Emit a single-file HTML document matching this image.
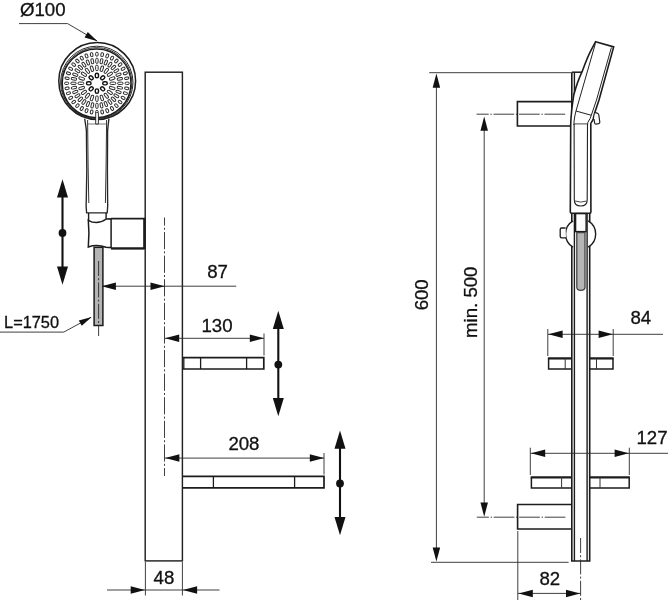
<!DOCTYPE html>
<html><head><meta charset="utf-8"><title>Shower rail dimensions</title>
<style>html,body{margin:0;padding:0;background:#fff}svg{display:block}</style></head>
<body><svg width="668" height="600" viewBox="0 0 668 600">
<rect width="668" height="600" fill="#ffffff"/>
<g style="filter:blur(0.4px)">
<rect x="145.2" y="72.2" width="37.2" height="488.7" stroke="#222" stroke-width="1.45" fill="none" />
<line x1="164.5" y1="217.5" x2="164.5" y2="476" stroke="#2a2a2a" stroke-width="0.9" stroke-dasharray="17.2 2.2 2 2.2" stroke-dashoffset="9.1"/>
<circle cx="97.2" cy="81" r="38.4" fill="#fff" stroke="#1c1c1c" stroke-width="1.5"/>
<circle cx="96.8" cy="82.4" r="36.2" fill="none" stroke="#2a2a2a" stroke-width="1.0"/>
<circle cx="96.7" cy="82.8" r="35.2" fill="none" stroke="#333" stroke-width="1.0"/>
<circle cx="96.6" cy="83.3" r="34.3" fill="none" stroke="#1c1c1c" stroke-width="1.3"/>
<g transform="translate(96.9 83.3) scale(1.04 1) translate(-96.9 -83.3)">
<rect x="102.50" y="81.75" width="4.4" height="3.1" rx="1.55" ry="1.55" transform="rotate(0.0 104.70 83.30)" fill="#fff" stroke="#111" stroke-width="1.4"/>
<rect x="100.22" y="87.27" width="4.4" height="3.1" rx="1.55" ry="1.55" transform="rotate(45.0 102.42 88.82)" fill="#fff" stroke="#111" stroke-width="1.4"/>
<rect x="94.70" y="89.55" width="4.4" height="3.1" rx="1.55" ry="1.55" transform="rotate(90.0 96.90 91.10)" fill="#fff" stroke="#111" stroke-width="1.4"/>
<rect x="89.18" y="87.27" width="4.4" height="3.1" rx="1.55" ry="1.55" transform="rotate(135.0 91.38 88.82)" fill="#fff" stroke="#111" stroke-width="1.4"/>
<rect x="86.90" y="81.75" width="4.4" height="3.1" rx="1.55" ry="1.55" transform="rotate(180.0 89.10 83.30)" fill="#fff" stroke="#111" stroke-width="1.4"/>
<rect x="89.18" y="76.23" width="4.4" height="3.1" rx="1.55" ry="1.55" transform="rotate(225.0 91.38 77.78)" fill="#fff" stroke="#111" stroke-width="1.4"/>
<rect x="94.70" y="73.95" width="4.4" height="3.1" rx="1.55" ry="1.55" transform="rotate(270.0 96.90 75.50)" fill="#fff" stroke="#111" stroke-width="1.4"/>
<rect x="100.22" y="76.23" width="4.4" height="3.1" rx="1.55" ry="1.55" transform="rotate(315.0 102.42 77.78)" fill="#fff" stroke="#111" stroke-width="1.4"/>
<rect x="109.50" y="82.10" width="5.6" height="2.4" rx="1.2" ry="1.2" transform="rotate(0.0 112.30 83.30)" fill="#fff" stroke="#2a2a2a" stroke-width="0.95"/>
<rect x="108.75" y="86.86" width="5.6" height="2.4" rx="1.2" ry="1.2" transform="rotate(18.0 111.55 88.06)" fill="#fff" stroke="#2a2a2a" stroke-width="0.95"/>
<rect x="106.56" y="91.15" width="5.6" height="2.4" rx="1.2" ry="1.2" transform="rotate(36.0 109.36 92.35)" fill="#fff" stroke="#2a2a2a" stroke-width="0.95"/>
<rect x="103.15" y="94.56" width="5.6" height="2.4" rx="1.2" ry="1.2" transform="rotate(54.0 105.95 95.76)" fill="#fff" stroke="#2a2a2a" stroke-width="0.95"/>
<rect x="98.86" y="96.75" width="5.6" height="2.4" rx="1.2" ry="1.2" transform="rotate(72.0 101.66 97.95)" fill="#fff" stroke="#2a2a2a" stroke-width="0.95"/>
<rect x="94.10" y="97.50" width="5.6" height="2.4" rx="1.2" ry="1.2" transform="rotate(90.0 96.90 98.70)" fill="#fff" stroke="#2a2a2a" stroke-width="0.95"/>
<rect x="89.34" y="96.75" width="5.6" height="2.4" rx="1.2" ry="1.2" transform="rotate(108.0 92.14 97.95)" fill="#fff" stroke="#2a2a2a" stroke-width="0.95"/>
<rect x="85.05" y="94.56" width="5.6" height="2.4" rx="1.2" ry="1.2" transform="rotate(126.0 87.85 95.76)" fill="#fff" stroke="#2a2a2a" stroke-width="0.95"/>
<rect x="81.64" y="91.15" width="5.6" height="2.4" rx="1.2" ry="1.2" transform="rotate(144.0 84.44 92.35)" fill="#fff" stroke="#2a2a2a" stroke-width="0.95"/>
<rect x="79.45" y="86.86" width="5.6" height="2.4" rx="1.2" ry="1.2" transform="rotate(162.0 82.25 88.06)" fill="#fff" stroke="#2a2a2a" stroke-width="0.95"/>
<rect x="78.70" y="82.10" width="5.6" height="2.4" rx="1.2" ry="1.2" transform="rotate(180.0 81.50 83.30)" fill="#fff" stroke="#2a2a2a" stroke-width="0.95"/>
<rect x="79.45" y="77.34" width="5.6" height="2.4" rx="1.2" ry="1.2" transform="rotate(198.0 82.25 78.54)" fill="#fff" stroke="#2a2a2a" stroke-width="0.95"/>
<rect x="81.64" y="73.05" width="5.6" height="2.4" rx="1.2" ry="1.2" transform="rotate(216.0 84.44 74.25)" fill="#fff" stroke="#2a2a2a" stroke-width="0.95"/>
<rect x="85.05" y="69.64" width="5.6" height="2.4" rx="1.2" ry="1.2" transform="rotate(234.0 87.85 70.84)" fill="#fff" stroke="#2a2a2a" stroke-width="0.95"/>
<rect x="89.34" y="67.45" width="5.6" height="2.4" rx="1.2" ry="1.2" transform="rotate(252.0 92.14 68.65)" fill="#fff" stroke="#2a2a2a" stroke-width="0.95"/>
<rect x="94.10" y="66.70" width="5.6" height="2.4" rx="1.2" ry="1.2" transform="rotate(270.0 96.90 67.90)" fill="#fff" stroke="#2a2a2a" stroke-width="0.95"/>
<rect x="98.86" y="67.45" width="5.6" height="2.4" rx="1.2" ry="1.2" transform="rotate(288.0 101.66 68.65)" fill="#fff" stroke="#2a2a2a" stroke-width="0.95"/>
<rect x="103.15" y="69.64" width="5.6" height="2.4" rx="1.2" ry="1.2" transform="rotate(306.0 105.95 70.84)" fill="#fff" stroke="#2a2a2a" stroke-width="0.95"/>
<rect x="106.56" y="73.05" width="5.6" height="2.4" rx="1.2" ry="1.2" transform="rotate(324.0 109.36 74.25)" fill="#fff" stroke="#2a2a2a" stroke-width="0.95"/>
<rect x="108.75" y="77.34" width="5.6" height="2.4" rx="1.2" ry="1.2" transform="rotate(342.0 111.55 78.54)" fill="#fff" stroke="#2a2a2a" stroke-width="0.95"/>
<rect x="116.80" y="82.15" width="5.2" height="2.3" rx="1.15" ry="1.15" transform="rotate(0.0 119.40 83.30)" fill="#fff" stroke="#2a2a2a" stroke-width="0.95"/>
<rect x="116.37" y="86.54" width="5.2" height="2.3" rx="1.15" ry="1.15" transform="rotate(11.2 118.97 87.69)" fill="#fff" stroke="#2a2a2a" stroke-width="0.95"/>
<rect x="115.09" y="90.76" width="5.2" height="2.3" rx="1.15" ry="1.15" transform="rotate(22.5 117.69 91.91)" fill="#fff" stroke="#2a2a2a" stroke-width="0.95"/>
<rect x="113.01" y="94.65" width="5.2" height="2.3" rx="1.15" ry="1.15" transform="rotate(33.8 115.61 95.80)" fill="#fff" stroke="#2a2a2a" stroke-width="0.95"/>
<rect x="110.21" y="98.06" width="5.2" height="2.3" rx="1.15" ry="1.15" transform="rotate(45.0 112.81 99.21)" fill="#fff" stroke="#2a2a2a" stroke-width="0.95"/>
<rect x="106.80" y="100.86" width="5.2" height="2.3" rx="1.15" ry="1.15" transform="rotate(56.2 109.40 102.01)" fill="#fff" stroke="#2a2a2a" stroke-width="0.95"/>
<rect x="102.91" y="102.94" width="5.2" height="2.3" rx="1.15" ry="1.15" transform="rotate(67.5 105.51 104.09)" fill="#fff" stroke="#2a2a2a" stroke-width="0.95"/>
<rect x="98.69" y="104.22" width="5.2" height="2.3" rx="1.15" ry="1.15" transform="rotate(78.8 101.29 105.37)" fill="#fff" stroke="#2a2a2a" stroke-width="0.95"/>
<rect x="94.30" y="104.65" width="5.2" height="2.3" rx="1.15" ry="1.15" transform="rotate(90.0 96.90 105.80)" fill="#fff" stroke="#2a2a2a" stroke-width="0.95"/>
<rect x="89.91" y="104.22" width="5.2" height="2.3" rx="1.15" ry="1.15" transform="rotate(101.2 92.51 105.37)" fill="#fff" stroke="#2a2a2a" stroke-width="0.95"/>
<rect x="85.69" y="102.94" width="5.2" height="2.3" rx="1.15" ry="1.15" transform="rotate(112.5 88.29 104.09)" fill="#fff" stroke="#2a2a2a" stroke-width="0.95"/>
<rect x="81.80" y="100.86" width="5.2" height="2.3" rx="1.15" ry="1.15" transform="rotate(123.8 84.40 102.01)" fill="#fff" stroke="#2a2a2a" stroke-width="0.95"/>
<rect x="78.39" y="98.06" width="5.2" height="2.3" rx="1.15" ry="1.15" transform="rotate(135.0 80.99 99.21)" fill="#fff" stroke="#2a2a2a" stroke-width="0.95"/>
<rect x="75.59" y="94.65" width="5.2" height="2.3" rx="1.15" ry="1.15" transform="rotate(146.2 78.19 95.80)" fill="#fff" stroke="#2a2a2a" stroke-width="0.95"/>
<rect x="73.51" y="90.76" width="5.2" height="2.3" rx="1.15" ry="1.15" transform="rotate(157.5 76.11 91.91)" fill="#fff" stroke="#2a2a2a" stroke-width="0.95"/>
<rect x="72.23" y="86.54" width="5.2" height="2.3" rx="1.15" ry="1.15" transform="rotate(168.8 74.83 87.69)" fill="#fff" stroke="#2a2a2a" stroke-width="0.95"/>
<rect x="71.80" y="82.15" width="5.2" height="2.3" rx="1.15" ry="1.15" transform="rotate(180.0 74.40 83.30)" fill="#fff" stroke="#2a2a2a" stroke-width="0.95"/>
<rect x="72.23" y="77.76" width="5.2" height="2.3" rx="1.15" ry="1.15" transform="rotate(191.2 74.83 78.91)" fill="#fff" stroke="#2a2a2a" stroke-width="0.95"/>
<rect x="73.51" y="73.54" width="5.2" height="2.3" rx="1.15" ry="1.15" transform="rotate(202.5 76.11 74.69)" fill="#fff" stroke="#2a2a2a" stroke-width="0.95"/>
<rect x="75.59" y="69.65" width="5.2" height="2.3" rx="1.15" ry="1.15" transform="rotate(213.8 78.19 70.80)" fill="#fff" stroke="#2a2a2a" stroke-width="0.95"/>
<rect x="78.39" y="66.24" width="5.2" height="2.3" rx="1.15" ry="1.15" transform="rotate(225.0 80.99 67.39)" fill="#fff" stroke="#2a2a2a" stroke-width="0.95"/>
<rect x="81.80" y="63.44" width="5.2" height="2.3" rx="1.15" ry="1.15" transform="rotate(236.2 84.40 64.59)" fill="#fff" stroke="#2a2a2a" stroke-width="0.95"/>
<rect x="85.69" y="61.36" width="5.2" height="2.3" rx="1.15" ry="1.15" transform="rotate(247.5 88.29 62.51)" fill="#fff" stroke="#2a2a2a" stroke-width="0.95"/>
<rect x="89.91" y="60.08" width="5.2" height="2.3" rx="1.15" ry="1.15" transform="rotate(258.8 92.51 61.23)" fill="#fff" stroke="#2a2a2a" stroke-width="0.95"/>
<rect x="94.30" y="59.65" width="5.2" height="2.3" rx="1.15" ry="1.15" transform="rotate(270.0 96.90 60.80)" fill="#fff" stroke="#2a2a2a" stroke-width="0.95"/>
<rect x="98.69" y="60.08" width="5.2" height="2.3" rx="1.15" ry="1.15" transform="rotate(281.2 101.29 61.23)" fill="#fff" stroke="#2a2a2a" stroke-width="0.95"/>
<rect x="102.91" y="61.36" width="5.2" height="2.3" rx="1.15" ry="1.15" transform="rotate(292.5 105.51 62.51)" fill="#fff" stroke="#2a2a2a" stroke-width="0.95"/>
<rect x="106.80" y="63.44" width="5.2" height="2.3" rx="1.15" ry="1.15" transform="rotate(303.8 109.40 64.59)" fill="#fff" stroke="#2a2a2a" stroke-width="0.95"/>
<rect x="110.21" y="66.24" width="5.2" height="2.3" rx="1.15" ry="1.15" transform="rotate(315.0 112.81 67.39)" fill="#fff" stroke="#2a2a2a" stroke-width="0.95"/>
<rect x="113.01" y="69.65" width="5.2" height="2.3" rx="1.15" ry="1.15" transform="rotate(326.2 115.61 70.80)" fill="#fff" stroke="#2a2a2a" stroke-width="0.95"/>
<rect x="115.09" y="73.54" width="5.2" height="2.3" rx="1.15" ry="1.15" transform="rotate(337.5 117.69 74.69)" fill="#fff" stroke="#2a2a2a" stroke-width="0.95"/>
<rect x="116.37" y="77.76" width="5.2" height="2.3" rx="1.15" ry="1.15" transform="rotate(348.8 118.97 78.91)" fill="#fff" stroke="#2a2a2a" stroke-width="0.95"/>
<rect x="124.00" y="82.10" width="4.0" height="2.4" rx="1.2" ry="1.2" transform="rotate(0.0 126.00 83.30)" fill="#fff" stroke="#2a2a2a" stroke-width="0.95"/>
<rect x="123.56" y="87.15" width="4.0" height="2.4" rx="1.2" ry="1.2" transform="rotate(10.0 125.56 88.35)" fill="#fff" stroke="#2a2a2a" stroke-width="0.95"/>
<rect x="122.25" y="92.05" width="4.0" height="2.4" rx="1.2" ry="1.2" transform="rotate(20.0 124.25 93.25)" fill="#fff" stroke="#2a2a2a" stroke-width="0.95"/>
<rect x="120.10" y="96.65" width="4.0" height="2.4" rx="1.2" ry="1.2" transform="rotate(30.0 122.10 97.85)" fill="#fff" stroke="#2a2a2a" stroke-width="0.95"/>
<rect x="117.19" y="100.81" width="4.0" height="2.4" rx="1.2" ry="1.2" transform="rotate(40.0 119.19 102.01)" fill="#fff" stroke="#2a2a2a" stroke-width="0.95"/>
<rect x="113.61" y="104.39" width="4.0" height="2.4" rx="1.2" ry="1.2" transform="rotate(50.0 115.61 105.59)" fill="#fff" stroke="#2a2a2a" stroke-width="0.95"/>
<rect x="109.45" y="107.30" width="4.0" height="2.4" rx="1.2" ry="1.2" transform="rotate(60.0 111.45 108.50)" fill="#fff" stroke="#2a2a2a" stroke-width="0.95"/>
<rect x="104.85" y="109.45" width="4.0" height="2.4" rx="1.2" ry="1.2" transform="rotate(70.0 106.85 110.65)" fill="#fff" stroke="#2a2a2a" stroke-width="0.95"/>
<rect x="99.95" y="110.76" width="4.0" height="2.4" rx="1.2" ry="1.2" transform="rotate(80.0 101.95 111.96)" fill="#fff" stroke="#2a2a2a" stroke-width="0.95"/>
<rect x="94.90" y="111.20" width="4.0" height="2.4" rx="1.2" ry="1.2" transform="rotate(90.0 96.90 112.40)" fill="#fff" stroke="#2a2a2a" stroke-width="0.95"/>
<rect x="89.85" y="110.76" width="4.0" height="2.4" rx="1.2" ry="1.2" transform="rotate(100.0 91.85 111.96)" fill="#fff" stroke="#2a2a2a" stroke-width="0.95"/>
<rect x="84.95" y="109.45" width="4.0" height="2.4" rx="1.2" ry="1.2" transform="rotate(110.0 86.95 110.65)" fill="#fff" stroke="#2a2a2a" stroke-width="0.95"/>
<rect x="80.35" y="107.30" width="4.0" height="2.4" rx="1.2" ry="1.2" transform="rotate(120.0 82.35 108.50)" fill="#fff" stroke="#2a2a2a" stroke-width="0.95"/>
<rect x="76.19" y="104.39" width="4.0" height="2.4" rx="1.2" ry="1.2" transform="rotate(130.0 78.19 105.59)" fill="#fff" stroke="#2a2a2a" stroke-width="0.95"/>
<rect x="72.61" y="100.81" width="4.0" height="2.4" rx="1.2" ry="1.2" transform="rotate(140.0 74.61 102.01)" fill="#fff" stroke="#2a2a2a" stroke-width="0.95"/>
<rect x="69.70" y="96.65" width="4.0" height="2.4" rx="1.2" ry="1.2" transform="rotate(150.0 71.70 97.85)" fill="#fff" stroke="#2a2a2a" stroke-width="0.95"/>
<rect x="67.55" y="92.05" width="4.0" height="2.4" rx="1.2" ry="1.2" transform="rotate(160.0 69.55 93.25)" fill="#fff" stroke="#2a2a2a" stroke-width="0.95"/>
<rect x="66.24" y="87.15" width="4.0" height="2.4" rx="1.2" ry="1.2" transform="rotate(170.0 68.24 88.35)" fill="#fff" stroke="#2a2a2a" stroke-width="0.95"/>
<rect x="65.80" y="82.10" width="4.0" height="2.4" rx="1.2" ry="1.2" transform="rotate(180.0 67.80 83.30)" fill="#fff" stroke="#2a2a2a" stroke-width="0.95"/>
<rect x="66.24" y="77.05" width="4.0" height="2.4" rx="1.2" ry="1.2" transform="rotate(190.0 68.24 78.25)" fill="#fff" stroke="#2a2a2a" stroke-width="0.95"/>
<rect x="67.55" y="72.15" width="4.0" height="2.4" rx="1.2" ry="1.2" transform="rotate(200.0 69.55 73.35)" fill="#fff" stroke="#2a2a2a" stroke-width="0.95"/>
<rect x="69.70" y="67.55" width="4.0" height="2.4" rx="1.2" ry="1.2" transform="rotate(210.0 71.70 68.75)" fill="#fff" stroke="#2a2a2a" stroke-width="0.95"/>
<rect x="72.61" y="63.39" width="4.0" height="2.4" rx="1.2" ry="1.2" transform="rotate(220.0 74.61 64.59)" fill="#fff" stroke="#2a2a2a" stroke-width="0.95"/>
<rect x="76.19" y="59.81" width="4.0" height="2.4" rx="1.2" ry="1.2" transform="rotate(230.0 78.19 61.01)" fill="#fff" stroke="#2a2a2a" stroke-width="0.95"/>
<rect x="80.35" y="56.90" width="4.0" height="2.4" rx="1.2" ry="1.2" transform="rotate(240.0 82.35 58.10)" fill="#fff" stroke="#2a2a2a" stroke-width="0.95"/>
<rect x="84.95" y="54.75" width="4.0" height="2.4" rx="1.2" ry="1.2" transform="rotate(250.0 86.95 55.95)" fill="#fff" stroke="#2a2a2a" stroke-width="0.95"/>
<rect x="89.85" y="53.44" width="4.0" height="2.4" rx="1.2" ry="1.2" transform="rotate(260.0 91.85 54.64)" fill="#fff" stroke="#2a2a2a" stroke-width="0.95"/>
<rect x="94.90" y="53.00" width="4.0" height="2.4" rx="1.2" ry="1.2" transform="rotate(270.0 96.90 54.20)" fill="#fff" stroke="#2a2a2a" stroke-width="0.95"/>
<rect x="99.95" y="53.44" width="4.0" height="2.4" rx="1.2" ry="1.2" transform="rotate(280.0 101.95 54.64)" fill="#fff" stroke="#2a2a2a" stroke-width="0.95"/>
<rect x="104.85" y="54.75" width="4.0" height="2.4" rx="1.2" ry="1.2" transform="rotate(290.0 106.85 55.95)" fill="#fff" stroke="#2a2a2a" stroke-width="0.95"/>
<rect x="109.45" y="56.90" width="4.0" height="2.4" rx="1.2" ry="1.2" transform="rotate(300.0 111.45 58.10)" fill="#fff" stroke="#2a2a2a" stroke-width="0.95"/>
<rect x="113.61" y="59.81" width="4.0" height="2.4" rx="1.2" ry="1.2" transform="rotate(310.0 115.61 61.01)" fill="#fff" stroke="#2a2a2a" stroke-width="0.95"/>
<rect x="117.19" y="63.39" width="4.0" height="2.4" rx="1.2" ry="1.2" transform="rotate(320.0 119.19 64.59)" fill="#fff" stroke="#2a2a2a" stroke-width="0.95"/>
<rect x="120.10" y="67.55" width="4.0" height="2.4" rx="1.2" ry="1.2" transform="rotate(330.0 122.10 68.75)" fill="#fff" stroke="#2a2a2a" stroke-width="0.95"/>
<rect x="122.25" y="72.15" width="4.0" height="2.4" rx="1.2" ry="1.2" transform="rotate(340.0 124.25 73.35)" fill="#fff" stroke="#2a2a2a" stroke-width="0.95"/>
<rect x="123.56" y="77.05" width="4.0" height="2.4" rx="1.2" ry="1.2" transform="rotate(350.0 125.56 78.25)" fill="#fff" stroke="#2a2a2a" stroke-width="0.95"/>
</g>
<path d="M84.7 118.6 C85.2 123 86.2 127 86.4 131 L86.8 170 L86.3 198 Q85.8 206 86.6 212.9 L107.2 212.9 Q108 206 107.6 198 L107.4 170 L107.6 131 C107.8 127 108.5 123 108.9 118.6" stroke="#262626" stroke-width="1.35" fill="none" />
<path d="M87.6 120 L88.1 165 L88.8 203" stroke="#333" stroke-width="1.0" fill="none" />
<path d="M106.6 120 L106.1 165 L105.4 203" stroke="#333" stroke-width="1.0" fill="none" />
<line x1="88" y1="124" x2="106.4" y2="124" stroke="#555" stroke-width="0.8" />
<path d="M95.7 124 L95.7 113.6 Q97.05 110.6 98.4 113.6 L98.4 124 Z" stroke="#1c1c1c" stroke-width="0.9" fill="#fff" />
<path d="M88.6 212.9 L88.6 220.5 M106.1 212.9 L106.1 219.5" stroke="#1c1c1c" stroke-width="1.4" fill="none" />
<path d="M88.3 220.3 Q97 225.5 106.3 219 L111.1 218.8 L111.1 247.6 L106 247.3 Q97 244 88.3 247 Q89.6 233 88.3 220.3 Z" stroke="#1c1c1c" stroke-width="1.5" fill="#fff" />
<path d="M111.1 218.6 L144.4 218.6 L144.4 248.4 L111.1 248.4" stroke="#1c1c1c" stroke-width="1.6" fill="none" />
<line x1="111.1" y1="248.4" x2="144.4" y2="248.4" stroke="#1c1c1c" stroke-width="2.0" />
<line x1="144.4" y1="218" x2="144.4" y2="249" stroke="#1c1c1c" stroke-width="2.2" />
<rect x="94.1" y="247.3" width="8.8" height="78.2" stroke="#1c1c1c" stroke-width="1.5" fill="#b4b4b4" />
<line x1="98.6" y1="261" x2="98.6" y2="336" stroke="#2a2a2a" stroke-width="0.9" stroke-dasharray="15 2.2 2 2.2"/>
<line x1="62.5" y1="189.2" x2="62.5" y2="274.7" stroke="#111" stroke-width="2.1" />
<polygon points="62.50,179.20 68.00,197.50 57.00,197.50" fill="#111"/>
<polygon points="62.50,284.70 57.00,266.40 68.00,266.40" fill="#111"/>
<circle cx="62.5" cy="233" r="3.9" fill="#111"/>
<text x="20.0" y="16.05" font-size="18.6" font-family="Liberation Sans, Arial, sans-serif" fill="#111" stroke="#111" stroke-width="0.3" text-anchor="start" transform="translate(20.0 16.05) scale(1.003 1) translate(-20.0 -16.05)">Ø100</text>
<path d="M19 23.6 L67.6 23.6 L97 40.8" stroke="#2a2a2a" stroke-width="0.9" fill="none" />
<polygon points="97.40,41.20 84.56,37.40 87.79,31.88" fill="#111"/>
<text x="4.05" y="327.9" font-size="16.3" font-family="Liberation Sans, Arial, sans-serif" fill="#111" stroke="#111" stroke-width="0.3" text-anchor="start" transform="translate(4.05 327.9) scale(1.003 1) translate(-4.05 -327.9)">L=1750</text>
<path d="M0 332.1 L63.8 332.1 L91 317.3" stroke="#2a2a2a" stroke-width="0.9" fill="none" />
<polygon points="91.70,316.90 81.77,325.84 78.80,320.40" fill="#111"/>
<line x1="102" y1="286.2" x2="236.2" y2="286.2" stroke="#2a2a2a" stroke-width="0.9" />
<polygon points="101.70,286.20 115.90,282.45 115.90,289.95" fill="#111"/>
<polygon points="164.70,286.20 150.50,289.95 150.50,282.45" fill="#111"/>
<text x="207.2" y="278.25" font-size="18.6" font-family="Liberation Sans, Arial, sans-serif" fill="#111" stroke="#111" stroke-width="0.3" text-anchor="start" transform="translate(207.2 278.25) scale(1.003 1) translate(-207.2 -278.25)">87</text>
<path d="M182.6 357.6 L263.8 357.6 L263.8 369 L182.6 369" stroke="#1c1c1c" stroke-width="1.7" fill="none" />
<line x1="183.8" y1="357.5" x2="183.8" y2="369" stroke="#1c1c1c" stroke-width="1.3" />
<line x1="200.6" y1="357.5" x2="200.6" y2="369" stroke="#1c1c1c" stroke-width="1.3" />
<line x1="246.6" y1="357.5" x2="246.6" y2="369" stroke="#1c1c1c" stroke-width="1.3" />
<line x1="165" y1="338.3" x2="264" y2="338.3" stroke="#2a2a2a" stroke-width="0.9" />
<polygon points="165.00,338.30 179.20,334.55 179.20,342.05" fill="#111"/>
<polygon points="264.00,338.30 249.80,342.05 249.80,334.55" fill="#111"/>
<line x1="264" y1="333.5" x2="264" y2="355.5" stroke="#2a2a2a" stroke-width="0.9" />
<text x="201.45" y="331.9" font-size="18.6" font-family="Liberation Sans, Arial, sans-serif" fill="#111" stroke="#111" stroke-width="0.3" text-anchor="start" transform="translate(201.45 331.9) scale(1.003 1) translate(-201.45 -331.9)">130</text>
<line x1="278.3" y1="320.8" x2="278.3" y2="406.2" stroke="#111" stroke-width="2.1" />
<polygon points="278.30,310.80 283.80,329.10 272.80,329.10" fill="#111"/>
<polygon points="278.30,416.20 272.80,397.90 283.80,397.90" fill="#111"/>
<circle cx="278.3" cy="364.6" r="3.9" fill="#111"/>
<path d="M182.6 476.3 L324 476.3 L324 487.8 L182.6 487.8" stroke="#1c1c1c" stroke-width="1.7" fill="none" />
<line x1="213.4" y1="476.3" x2="213.4" y2="487.8" stroke="#1c1c1c" stroke-width="1.3" />
<line x1="294.6" y1="476.3" x2="294.6" y2="487.8" stroke="#1c1c1c" stroke-width="1.3" />
<line x1="165" y1="458.1" x2="324" y2="458.1" stroke="#2a2a2a" stroke-width="0.9" />
<polygon points="165.20,458.10 179.40,454.35 179.40,461.85" fill="#111"/>
<polygon points="324.00,458.10 309.80,461.85 309.80,454.35" fill="#111"/>
<line x1="324" y1="453" x2="324" y2="474.6" stroke="#2a2a2a" stroke-width="0.9" />
<text x="228.4" y="450.05" font-size="18.6" font-family="Liberation Sans, Arial, sans-serif" fill="#111" stroke="#111" stroke-width="0.3" text-anchor="start" transform="translate(228.4 450.05) scale(1.003 1) translate(-228.4 -450.05)">208</text>
<line x1="340" y1="440.4" x2="340" y2="525.2" stroke="#111" stroke-width="2.1" />
<polygon points="340.00,430.40 345.50,448.70 334.50,448.70" fill="#111"/>
<polygon points="340.00,535.20 334.50,516.90 345.50,516.90" fill="#111"/>
<circle cx="340" cy="483.5" r="3.9" fill="#111"/>
<line x1="145.4" y1="562" x2="145.4" y2="595.5" stroke="#2a2a2a" stroke-width="0.9" />
<line x1="182.4" y1="562" x2="182.4" y2="595.5" stroke="#2a2a2a" stroke-width="0.9" />
<line x1="107" y1="590" x2="219.5" y2="590" stroke="#2a2a2a" stroke-width="0.9" />
<polygon points="144.90,590.00 130.70,593.75 130.70,586.25" fill="#111"/>
<polygon points="182.90,590.00 197.10,586.25 197.10,593.75" fill="#111"/>
<text x="153.6" y="584.3" font-size="18.6" font-family="Liberation Sans, Arial, sans-serif" fill="#111" stroke="#111" stroke-width="0.3" text-anchor="start" transform="translate(153.6 584.3) scale(1.003 1) translate(-153.6 -584.3)">48</text>
<line x1="429.2" y1="72.7" x2="571" y2="72.7" stroke="#2a2a2a" stroke-width="0.9" />
<line x1="436.4" y1="80" x2="436.4" y2="555" stroke="#2a2a2a" stroke-width="0.9" />
<polygon points="436.40,73.60 440.15,87.80 432.65,87.80" fill="#111"/>
<polygon points="436.40,561.60 432.65,547.40 440.15,547.40" fill="#111"/>
<line x1="431" y1="562.3" x2="568.6" y2="562.3" stroke="#2a2a2a" stroke-width="0.9" />
<text x="428.35" y="310.35" font-size="18.6" font-family="Liberation Sans, Arial, sans-serif" fill="#111" stroke="#111" stroke-width="0.3" text-anchor="start" transform="translate(428.35 310.35) rotate(-90) scale(1.003 1) translate(-428.35 -310.35)">600</text>
<line x1="484.2" y1="122" x2="484.2" y2="510" stroke="#2a2a2a" stroke-width="0.9" />
<polygon points="484.20,116.60 487.95,130.80 480.45,130.80" fill="#111"/>
<polygon points="484.20,516.80 480.45,502.60 487.95,502.60" fill="#111"/>
<text x="476.52" y="338.0" font-size="18.6" font-family="Liberation Sans, Arial, sans-serif" fill="#111" stroke="#111" stroke-width="0.3" text-anchor="start" transform="translate(476.52 338.0) rotate(-90) scale(1.003 1) translate(-476.52 -338.0)">min. 500</text>
<line x1="476.6" y1="114.2" x2="565.6" y2="114.2" stroke="#2a2a2a" stroke-width="0.9" stroke-dasharray="20.7 1.7 1.4 1.7" stroke-dashoffset="8.6"/>
<line x1="476.8" y1="517.2" x2="565.8" y2="517.2" stroke="#2a2a2a" stroke-width="0.9" stroke-dasharray="20.7 1.7 1.4 1.7" stroke-dashoffset="8.6"/>
<path d="M571.8 72.2 L571.8 561 L589.7 561 L589.7 213" stroke="#1c1c1c" stroke-width="1.6" fill="none" />
<line x1="574.4" y1="72.2" x2="574.4" y2="561" stroke="#1c1c1c" stroke-width="1.4" />
<line x1="587.1" y1="214" x2="587.1" y2="561" stroke="#1c1c1c" stroke-width="1.4" />
<line x1="571.8" y1="72.2" x2="582.2" y2="72.2" stroke="#1c1c1c" stroke-width="1.5" />
<path d="M571.2 101.6 L517.4 101.6 L517.4 126 L571.2 126" stroke="#1c1c1c" stroke-width="1.6" fill="none" />
<path d="M571.2 504.5 L517.6 504.5 L517.6 529 L571.2 529" stroke="#1c1c1c" stroke-width="1.6" fill="none" />
<path d="M595.6 41.7 L613.7 46.9 L599 100 L594.5 113.5 L593.2 119 Q592.6 121 591.4 122.2 Q590.8 122.8 590.8 124.5 L590.9 212 Q590.9 213.2 589.7 213.2 L571.5 213.2 Q570.3 213.2 570.3 212 L570.7 125 Q570.9 118 571.3 115 Q572 106 572.8 101.5 L573.75 95 Q577.4 81.5 582.2 71.4 Q587.6 56.5 591.5 49.3 Z" stroke="#1c1c1c" stroke-width="1.6" fill="#fff" />
<path d="M595.4 43.5 L576 111 Q574.6 116 574.1 121 L573.9 125" stroke="#222" stroke-width="1.0" fill="none" />
<path d="M611.4 47.5 L596.5 100 L591.4 115 Q590 119.5 588.6 121 Q587.6 122 587.6 124.5" stroke="#222" stroke-width="1.0" fill="none" />
<line x1="576" y1="111" x2="591" y2="115.2" stroke="#222" stroke-width="1.0" />
<line x1="574" y1="123.9" x2="587.4" y2="123.9" stroke="#333" stroke-width="0.9" />
<path d="M574.1 124 L574.3 200 Q574.3 206 580.7 206 Q587.2 206 587.2 200 L587.5 124" stroke="#222" stroke-width="1.1" fill="none" />
<path d="M575 201 Q580.7 203.2 586.6 201" stroke="#333" stroke-width="0.9" fill="none" />
<path d="M595 112.6 L597.4 113.2 Q598.6 113.6 598.8 115 L599.8 122 Q599.9 123.4 598.6 123.7 L595.8 124.1 Q594.8 124.1 594.6 123 L594 119" stroke="#222" stroke-width="1.2" fill="#fff" />
<path d="M573 220.8 A15.4 15.4 0 0 0 573 247.2" fill="#fff" stroke="#1c1c1c" stroke-width="1.4"/>
<path d="M588.2 220.8 A15.4 15.4 0 0 1 588.2 247.2" fill="#fff" stroke="#1c1c1c" stroke-width="1.4"/>
<path d="M565.6 228 L561.6 228 Q560.2 228 560.2 229.5 L560.2 236.4 Q560.2 237.8 561.6 237.8 L566 237.8" stroke="#1c1c1c" stroke-width="1.3" fill="#fff" />
<rect x="575.6" y="213.6" width="10.5" height="18" stroke="#1c1c1c" stroke-width="1.4" fill="#fff" />
<path d="M576.8 232.6 L576.8 287 Q576.8 290.4 580.9 290.4 Q585 290.4 585 287 L585 232.6 Z" stroke="#444" stroke-width="1.3" fill="#b6b6b6" />
<path d="M571.8 369.1 L548.6 369.1 L548.6 358.4" stroke="#1c1c1c" stroke-width="1.5" fill="none" />
<path d="M589.7 369.1 L613.0 369.1 L613.0 358.4" stroke="#1c1c1c" stroke-width="1.5" fill="none" />
<line x1="547.9" y1="358.4" x2="571.8" y2="358.4" stroke="#1c1c1c" stroke-width="2.3" />
<line x1="589.7" y1="358.4" x2="613.7" y2="358.4" stroke="#1c1c1c" stroke-width="2.3" />
<line x1="565.2" y1="358.4" x2="565.2" y2="369.1" stroke="#333" stroke-width="1.0" />
<line x1="596.5" y1="358.4" x2="596.5" y2="369.1" stroke="#333" stroke-width="1.0" />
<line x1="547.8" y1="329" x2="547.8" y2="356" stroke="#2a2a2a" stroke-width="0.9" />
<line x1="613.2" y1="329" x2="613.2" y2="356" stroke="#2a2a2a" stroke-width="0.9" />
<line x1="548" y1="334.3" x2="663" y2="334.3" stroke="#2a2a2a" stroke-width="0.9" />
<polygon points="548.40,334.30 562.60,330.55 562.60,338.05" fill="#111"/>
<polygon points="612.80,334.30 598.60,338.05 598.60,330.55" fill="#111"/>
<text x="630.5" y="324.2" font-size="18.6" font-family="Liberation Sans, Arial, sans-serif" fill="#111" stroke="#111" stroke-width="0.3" text-anchor="start" transform="translate(630.5 324.2) scale(1.003 1) translate(-630.5 -324.2)">84</text>
<path d="M571.8 487.9 L531.4 487.9 L531.4 477.3" stroke="#1c1c1c" stroke-width="1.5" fill="none" />
<path d="M589.7 487.9 L629.2 487.9 L629.2 477.3" stroke="#1c1c1c" stroke-width="1.5" fill="none" />
<line x1="530.6999999999999" y1="477.3" x2="571.8" y2="477.3" stroke="#1c1c1c" stroke-width="2.3" />
<line x1="589.7" y1="477.3" x2="629.9000000000001" y2="477.3" stroke="#1c1c1c" stroke-width="2.3" />
<line x1="561.6" y1="477.3" x2="561.6" y2="487.9" stroke="#333" stroke-width="1.0" />
<line x1="600" y1="477.3" x2="600" y2="487.9" stroke="#333" stroke-width="1.0" />
<line x1="530.3" y1="447.7" x2="530.3" y2="475" stroke="#2a2a2a" stroke-width="0.9" />
<line x1="629.3" y1="447.7" x2="629.3" y2="475" stroke="#2a2a2a" stroke-width="0.9" />
<line x1="530.5" y1="453.3" x2="668" y2="453.3" stroke="#2a2a2a" stroke-width="0.9" />
<polygon points="531.00,453.30 545.20,449.55 545.20,457.05" fill="#111"/>
<polygon points="628.80,453.30 614.60,457.05 614.60,449.55" fill="#111"/>
<text x="636.5" y="444.21" font-size="18.6" font-family="Liberation Sans, Arial, sans-serif" fill="#111" stroke="#111" stroke-width="0.3" text-anchor="start" transform="translate(636.5 444.21) scale(1.003 1) translate(-636.5 -444.21)">127</text>
<line x1="517.8" y1="531" x2="517.8" y2="600" stroke="#2a2a2a" stroke-width="0.9" />
<line x1="580.6" y1="538" x2="580.6" y2="600" stroke="#2a2a2a" stroke-width="0.9" stroke-dasharray="15 2.2 2 2.2"/>
<line x1="518" y1="593.4" x2="580.4" y2="593.4" stroke="#2a2a2a" stroke-width="0.9" />
<polygon points="518.60,593.40 532.80,589.65 532.80,597.15" fill="#111"/>
<polygon points="580.20,593.40 566.00,597.15 566.00,589.65" fill="#111"/>
<text x="539.5" y="585.1" font-size="18.6" font-family="Liberation Sans, Arial, sans-serif" fill="#111" stroke="#111" stroke-width="0.3" text-anchor="start" transform="translate(539.5 585.1) scale(1.003 1) translate(-539.5 -585.1)">82</text>
</g>
</svg></body></html>
